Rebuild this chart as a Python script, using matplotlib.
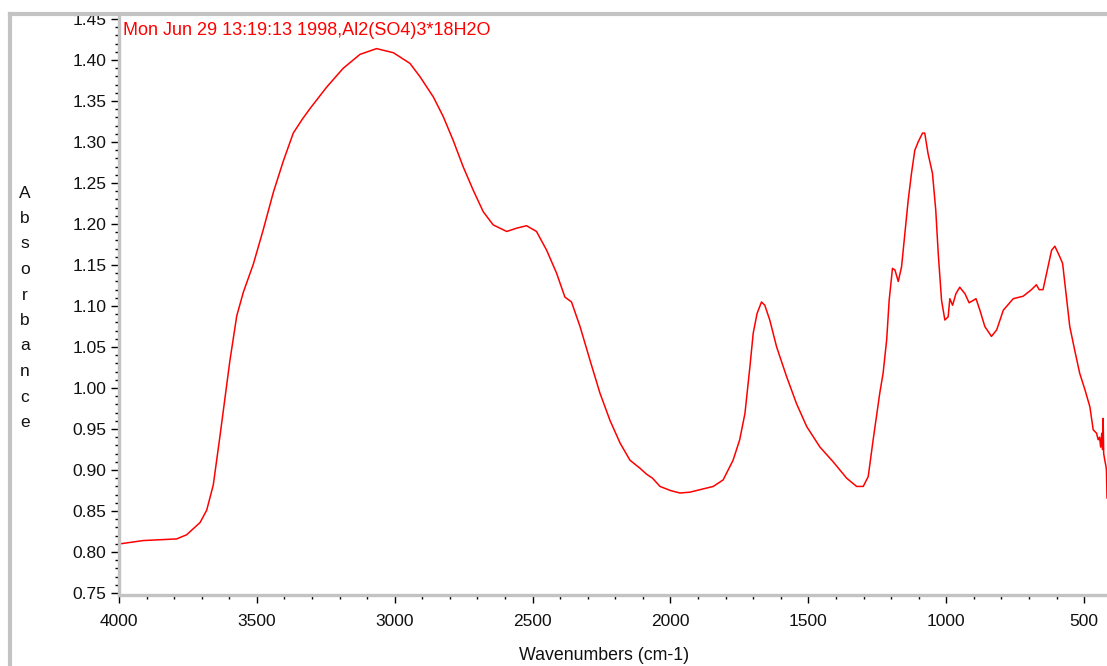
"""Absorbance spectrum of Al2(SO4)3*18H2O, drawn in the style of an old OMNIC export."""

from __future__ import annotations

import matplotlib

matplotlib.use("Agg")
import matplotlib.pyplot as plt
from matplotlib.lines import Line2D
from matplotlib.ticker import MultipleLocator

# Spectrum, read as wavenumber (cm-1) / absorbance pairs, high to low wavenumber.
WAVENUMBERS = [
    4000, 3996, 3912, 3791, 3755, 3706, 3682, 3658, 3634, 3616, 3598, 3573,
    3549, 3513, 3477, 3440, 3404, 3368, 3335, 3307, 3247, 3187, 3126, 3066,
    3005, 2945, 2909, 2860, 2824, 2788, 2752, 2715, 2679, 2643, 2594, 2558,
    2522, 2486, 2449, 2413, 2383, 2359, 2328, 2292, 2256, 2220, 2183, 2147,
    2110, 2087, 2065, 2038, 2000, 1966, 1930, 1893, 1845, 1809, 1773, 1749,
    1730, 1712, 1700, 1686, 1670, 1658, 1640, 1615, 1579, 1543, 1506, 1458,
    1410, 1361, 1325, 1301, 1283, 1265, 1241, 1229, 1216, 1207, 1195, 1186,
    1174, 1162, 1150, 1138, 1126, 1114, 1102, 1086, 1078, 1066, 1050, 1038,
    1029, 1017, 1005, 993, 987, 977, 965, 951, 932, 917, 892, 878,
    860, 836, 817, 793, 757, 721, 691, 673, 663, 649, 636, 618,
    606, 588, 578, 564, 552, 534, 516, 497, 479, 467, 455, 449,
    444, 440, 436, 433, 431, 429, 425, 421, 419, 417,
]
ABSORBANCE = [
    0.809, 0.810, 0.814, 0.816, 0.821, 0.836, 0.851, 0.882, 0.941, 0.987, 1.033, 1.088,
    1.117, 1.151, 1.193, 1.239, 1.277, 1.311, 1.328, 1.341, 1.367, 1.390, 1.407, 1.414,
    1.409, 1.396, 1.380, 1.355, 1.331, 1.302, 1.270, 1.241, 1.215, 1.199, 1.191, 1.195,
    1.198, 1.191, 1.168, 1.140, 1.111, 1.105, 1.075, 1.034, 0.994, 0.961, 0.933, 0.912,
    0.902, 0.895, 0.890, 0.880, 0.875, 0.872, 0.873, 0.876, 0.880, 0.888, 0.912, 0.937,
    0.969, 1.026, 1.067, 1.091, 1.105, 1.101, 1.083, 1.050, 1.014, 0.981, 0.953, 0.928,
    0.910, 0.890, 0.880, 0.880, 0.892, 0.937, 0.994, 1.018, 1.059, 1.107, 1.146, 1.144,
    1.130, 1.148, 1.189, 1.229, 1.262, 1.290, 1.300, 1.311, 1.311, 1.286, 1.262, 1.217,
    1.164, 1.107, 1.083, 1.087, 1.109, 1.101, 1.115, 1.123, 1.115, 1.104, 1.109, 1.095,
    1.075, 1.063, 1.071, 1.095, 1.109, 1.112, 1.120, 1.126, 1.120, 1.120, 1.140, 1.168,
    1.173, 1.160, 1.152, 1.111, 1.075, 1.046, 1.018, 0.998, 0.977, 0.949, 0.945, 0.937,
    0.940, 0.928, 0.945, 0.925, 0.963, 0.920, 0.912, 0.905, 0.900, 0.866,
]

TITLE = "Mon Jun 29 13:19:13 1998,Al2(SO4)3*18H2O"
X_LABEL = "Wavenumbers (cm-1)"
Y_LABEL = "Absorbance"

RED = "#ff0000"
FRAME_GRAY = "#c3c3c3"
FONT = "Liberation Sans"


def plot_spectrum(output_path: str) -> None:
    plt.rcParams.update({"font.family": FONT, "font.size": 12.5})
    fig_w, fig_h = 1107, 666
    fig = plt.figure(figsize=(fig_w / 100, fig_h / 100), dpi=100)

    # axes box in pixel terms: x from 119 to right edge, y from 15 to 595
    left, right, top, bottom = 119, 1107, 15, 595
    ax = fig.add_axes(
        [left / fig_w, (fig_h - bottom) / fig_h, (right - left) / fig_w, (bottom - top) / fig_h]
    )
    ax.plot(WAVENUMBERS, ABSORBANCE, color=RED, linewidth=1.1)

    ax.set_xlim(4000, 417)
    ax.set_ylim(0.7476, 1.455)
    ax.xaxis.set_major_locator(MultipleLocator(500))
    ax.xaxis.set_minor_locator(MultipleLocator(100))
    ax.yaxis.set_major_locator(MultipleLocator(0.05))
    ax.yaxis.set_minor_locator(MultipleLocator(0.01))
    ax.yaxis.set_major_formatter(lambda v, _pos: f"{v:.2f}")
    ax.xaxis.set_major_formatter(lambda v, _pos: f"{v:.0f}")

    for side in ("top", "right"):
        ax.spines[side].set_visible(False)
    for side in ("left", "bottom"):
        ax.spines[side].set_color(FRAME_GRAY)
        ax.spines[side].set_linewidth(2.4)

    ax.tick_params(axis="both", which="major", direction="out", length=5.5, width=1.0,
                   color="black", labelsize=12.5, labelcolor="#111111")
    ax.tick_params(axis="both", which="minor", direction="out", length=2.8, width=1.0,
                   color="black")
    ax.tick_params(axis="y", which="major", pad=3.5)
    ax.tick_params(axis="x", which="major", pad=8)

    ax.text(0.004, 0.974, TITLE, transform=ax.transAxes, ha="left", va="center",
            color=RED, fontsize=13)

    fig.text(604 / fig_w, 1 - 656 / fig_h, X_LABEL, ha="center", va="center",
             fontsize=12.8, color="#111111")

    # vertical axis title, one letter per row
    for i, letter in enumerate(Y_LABEL):
        fig.text(25 / fig_w, 1 - (193 + 25.5 * i) / fig_h, letter, ha="center",
                 va="center", fontsize=12.5, color="#111111")

    # outer window frame
    frame_x, frame_y = 9.5, 13.5
    fig.add_artist(Line2D([frame_x / fig_w, frame_x / fig_w], [0, 1 - frame_y / fig_h],
                          transform=fig.transFigure, color=FRAME_GRAY, linewidth=3.0))
    fig.add_artist(Line2D([frame_x / fig_w, 1], [1 - frame_y / fig_h, 1 - frame_y / fig_h],
                          transform=fig.transFigure, color=FRAME_GRAY, linewidth=3.0))

    fig.savefig(output_path, dpi=100, facecolor="white")
    plt.close(fig)


if __name__ == "__main__":
    plot_spectrum("out.png")
